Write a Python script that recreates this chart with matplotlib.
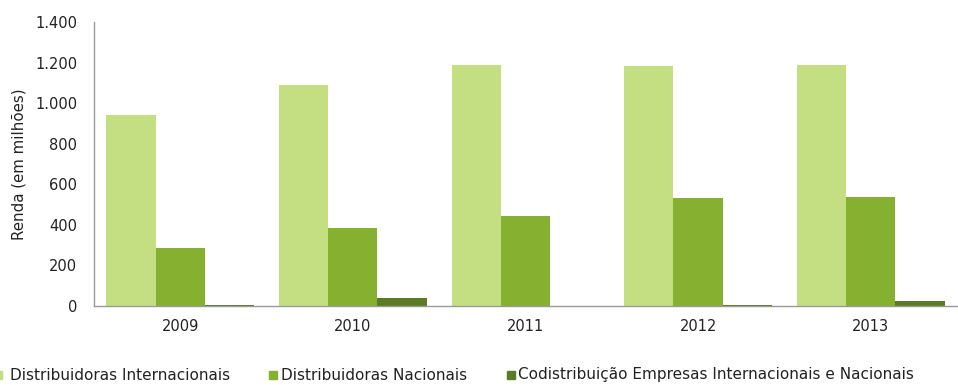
import matplotlib
matplotlib.use("Agg")
import matplotlib.pyplot as plt
from matplotlib.ticker import FuncFormatter
from matplotlib.patches import Rectangle
import numpy as np

plt.rcParams['font.family'] = ['DejaVu Sans']

years = ["2009", "2010", "2011", "2012", "2013"]
series_names = ["Distribuidoras Internacionais",
                "Distribuidoras Nacionais",
                "Codistribuição Empresas Internacionais e Nacionais"]
internacionais = [940, 1088, 1188, 1183, 1188]
nacionais = [286, 384, 444, 532, 537]
codistribuicao = [3, 40, 0, 4, 25]
colors = ["#C3DF82", "#86B130", "#5B7B24"]

W, H = 958, 385
fig = plt.figure(figsize=(W / 100, H / 100), dpi=100)
ax = fig.add_axes([0.098, 0.205, 0.901, 0.738])

x = np.arange(len(years))
w = 0.285
for i, vals in enumerate([internacionais, nacionais, codistribuicao]):
    ax.bar(x + (i - 1) * w, vals, width=w, color=colors[i], label=series_names[i], zorder=2)

ax.set_xlim(-0.5, len(years) - 0.5)
ax.set_ylim(0, 1400)
ax.set_yticks(range(0, 1401, 200))
ax.yaxis.set_major_formatter(FuncFormatter(lambda v, p: f"{int(v):,}".replace(",", ".")))
ax.set_xticks(x)
ax.set_xticklabels(years)
ax.tick_params(axis='both', length=0, labelsize=10.5, colors="#222222", pad=9)
ax.tick_params(axis='y', pad=12)
for s in ["top", "right"]:
    ax.spines[s].set_visible(False)
for s in ["left", "bottom"]:
    ax.spines[s].set_color("#9A9A9A")
    ax.spines[s].set_linewidth(1.0)
ax.set_ylabel("Renda (em milhões)", fontsize=10.8, color="#222222", labelpad=6)

# legend row along the bottom: colour square followed by its label
legend_y = 375
square_x = [-6, 269, 507]
text_x = [10, 281, 518]
for c, name, sx, tx in zip(colors, series_names, square_x, text_x):
    fig.patches.append(Rectangle((sx / W, (H - legend_y - 4) / H), 8 / W, 8 / H,
                                 transform=fig.transFigure, color=c))
    fig.text(tx / W, (H - legend_y) / H, name, fontsize=11, color="#222222",
             ha="left", va="center")

fig.savefig("out.png", dpi=100)
